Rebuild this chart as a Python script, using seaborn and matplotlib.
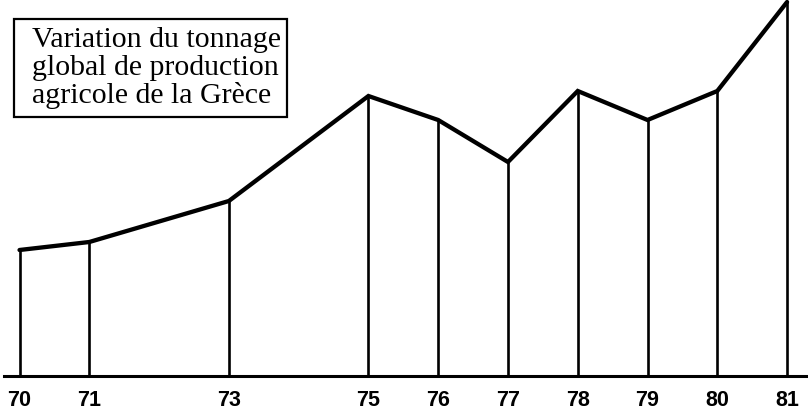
import matplotlib.pyplot as plt
import seaborn as sns
from matplotlib.patches import Rectangle

# === Données (indice de tonnage) ===
years = [70, 71, 73, 75, 76, 77, 78, 79, 80, 81]
tonnage = [126, 134, 175, 280, 256, 214, 285, 256, 285, 374]
year_labels = [str(y) for y in years]
title = "Variation du tonnage\nglobal de production\nagricole de la Grèce"

sns.set_style("white")

fig = plt.figure(figsize=(8.08, 4.14), dpi=100)
ax = fig.add_axes([0, 37 / 414, 1, 377 / 414])

# ---------- Lignes verticales + courbe ----------
ax.vlines(years, 0, tonnage, color="black", linewidth=1.9)
sns.lineplot(x=years, y=tonnage, ax=ax, color="black", linewidth=3.1,
             solid_joinstyle="miter")

ax.set_xlim(69.72, 81.3)
ax.set_ylim(0, 377)

# ---------- Axe ----------
for side in ["left", "right", "top"]:
    ax.spines[side].set_visible(False)
ax.spines["bottom"].set_linewidth(2.2)
ax.spines["bottom"].set_color("black")
ax.spines["bottom"].set_bounds(69.78, 81.3)
ax.set_yticks([])
ax.set_xticks(years)
ax.set_xticklabels(year_labels, fontfamily="Liberation Sans",
                   fontweight="bold", fontsize=15.5, color="black")
ax.tick_params(axis="x", length=0, pad=9.5)

# ---------- Cartouche titre ----------
fig.patches.append(Rectangle((14 / 808, 1 - 118 / 414), 273 / 808, 98 / 414,
                             transform=fig.transFigure, facecolor="white",
                             edgecolor="black", linewidth=1.6, zorder=3))
fig.text(32 / 808, 1 - 27 / 414, title, ha="left", va="top", color="black",
         fontfamily="Liberation Serif", fontsize=21.5, linespacing=1.08,
         zorder=4)

fig.savefig("out.png", dpi=100)
